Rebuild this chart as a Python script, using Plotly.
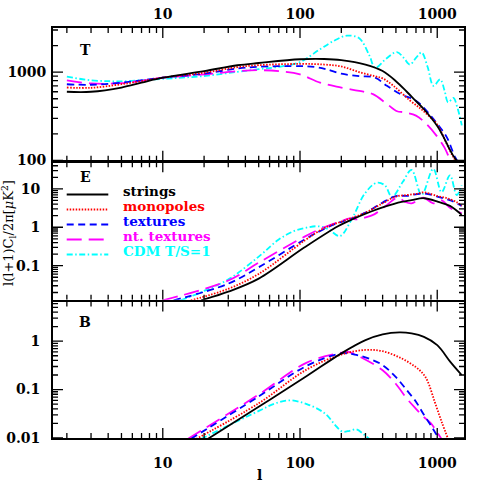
import math

import plotly.graph_objects as go
from plotly.subplots import make_subplots

# l(l+1)C_l/2pi [muK^2] against multipole l
T_STRINGS_L = [2, 3, 5, 7, 10, 20, 35, 50, 100, 150, 200, 300, 400, 500, 600, 700, 800, 1000, 1100, 1200, 1300, 1420]
T_STRINGS = [600, 600, 670, 760, 866, 1026, 1197, 1270, 1400, 1410, 1370, 1220, 1030, 790, 600, 470, 380, 245, 190, 145, 115, 95]
T_MONO_L = [2, 3, 5, 10, 20, 35, 50, 100, 150, 200, 270, 350, 400, 480, 630, 750, 850, 1000, 1170, 1310, 1420]
T_MONO = [670, 665, 730, 866, 985, 1140, 1200, 1240, 1220, 1160, 1000, 900, 850, 700, 480, 390, 330, 255, 155, 109, 90]
T_TEX_L = [2, 3, 5, 10, 20, 35, 50, 100, 130, 155, 200, 270, 350, 430, 540, 700, 830, 1000, 1170, 1350, 1460]
T_TEX = [730, 720, 760, 866, 962, 1100, 1150, 1170, 1140, 1080, 960, 900, 870, 700, 565, 475, 370, 260, 185, 109, 90]
T_NT_L = [2, 3, 5, 7, 10, 20, 35, 50, 70, 100, 140, 200, 270, 340, 430, 510, 570, 700, 830, 990, 1130, 1250, 1320]
T_NT = [808, 745, 750, 800, 866, 943, 1026, 1052, 1026, 943, 761, 670, 613, 563, 436, 361, 352, 322, 261, 190, 140, 100, 88]
T_CDM_L = [2, 3, 4, 5, 7, 10, 20, 35, 50, 70, 100, 140, 180, 220, 270, 320, 353, 420, 508, 570, 633, 700,
           769, 850, 940, 1050, 1130, 1200, 1310, 1400, 1510]
T_CDM = [888, 808, 790, 785, 810, 840, 905, 1010, 1080, 1150, 1300, 1820, 2300, 2590, 2420, 1550, 1120, 1400, 1690,
         1450, 1219, 1450, 1670, 1150, 698, 829, 620, 455, 510, 400, 250]

E_STRINGS_L = [19, 30, 50, 108, 189, 237, 330, 415, 549, 650, 800, 1017, 1238, 1507]
E_STRINGS = [0.0125, 0.021, 0.046, 0.30, 1.06, 1.57, 2.57, 3.45, 4.6, 5.1, 5.7, 4.6, 3.6, 2.1]
E_MONO_L = [16, 30, 50, 108, 150, 200, 237, 300, 400, 500, 600, 700, 800, 1000, 1200, 1400, 1507]
E_MONO = [0.0125, 0.025, 0.061, 0.45, 0.95, 1.4, 1.74, 2.4, 4.2, 6.3, 6.9, 7.4, 8.1, 6.5, 5.6, 4.4, 3.6]
E_TEX_L = [12, 30, 50, 108, 150, 189, 224, 300, 400, 500, 600, 800, 1000, 1250, 1507]
E_TEX = [0.0125, 0.034, 0.091, 0.48, 0.9, 1.3, 1.57, 2.4, 4.4, 6.5, 6.6, 7.6, 6.3, 5.0, 3.6]
E_NT_L = [10, 30, 50, 108, 150, 200, 230, 260, 300, 350, 415, 518, 581, 650, 790, 935, 1076, 1238, 1507]
E_NT = [0.0125, 0.041, 0.12, 0.57, 1.0, 1.45, 1.7, 1.6, 1.8, 2.2, 3.45, 5.9, 4.6, 4.2, 5.9, 4.2, 5.0, 3.2, 2.3]
E_CDM_L = [13.5, 20, 30.7, 50.8, 70, 90, 115, 135, 160, 195, 237, 297, 361, 415, 468, 560, 650, 769, 935,
           1076, 1238, 1386, 1507]
E_CDM = [0.0125, 0.022, 0.046, 0.18, 0.48, 0.79, 1.0, 1.06, 0.9, 0.59, 1.57, 7.6, 14.3, 12.4, 6.2, 15, 31, 7.0, 33,
         8.2, 22.5, 6.9, 12.4]

B_STRINGS_L = [21, 50, 112, 200, 300, 400, 530, 650, 800, 1000, 1250, 1507]
B_STRINGS = [0.0093, 0.044, 0.19, 0.56, 1.05, 1.38, 1.52, 1.45, 1.23, 0.83, 0.37, 0.20]
B_MONO_L = [17.5, 50, 112, 200, 300, 400, 550, 700, 790, 850, 960, 1080, 1200]
B_MONO = [0.0095, 0.052, 0.26, 0.53, 0.66, 0.62, 0.44, 0.29, 0.21, 0.15, 0.055, 0.021, 0.0095]
B_TEX_L = [16, 50, 112, 200, 250, 315, 400, 500, 600, 700, 800, 900, 1000, 1040]
B_TEX = [0.0095, 0.072, 0.31, 0.56, 0.53, 0.44, 0.32, 0.18, 0.097, 0.056, 0.030, 0.018, 0.011, 0.0093]
B_NT_L = [15.2, 50, 112, 200, 225, 280, 400, 500, 600, 700, 800, 900, 1000, 1080]
B_NT = [0.0095, 0.079, 0.36, 0.58, 0.60, 0.46, 0.25, 0.13, 0.065, 0.04, 0.027, 0.02, 0.013, 0.0093]
B_CDM_L = [19, 30, 51, 65, 84, 112, 152, 185, 204, 230, 257, 290, 323]
B_CDM = [0.0095, 0.018, 0.037, 0.051, 0.06, 0.05, 0.032, 0.017, 0.0135, 0.014, 0.015, 0.012, 0.0093]

MODEL_NAMES = ["strings", "monopoles", "textures", "nt. textures", "CDM T/S=1"]
MODEL_COLORS = ["#000000", "#ff0000", "#0000ff", "#ff00ff", "#00ffff"]
MODEL_DASHES = ["solid", "1.5px,1.5px", "7px,4.5px", "15px,7px", "6px,2.5px,1.5px,2.5px"]

PANEL_LABELS = ["T", "E", "B"]
X_TICKS = [10, 100, 1000]
X_TICK_TEXT = ["10", "100", "1000"]
T_TICKS = [100, 1000]
T_TICK_TEXT = ["100", "1000"]
E_TICKS = [0.1, 1, 10]
E_TICK_TEXT = ["0.1", "1", "10"]
B_TICKS = [0.01, 0.1, 1]
B_TICK_TEXT = ["0.01", "0.1", "1"]

W, H = 491, 491
LEFT, RIGHT, TOP, BOTTOM = 53, 464, 28, 438
FONT = "DejaVu Serif"
LINE_W = 1.7
X_RANGE = [0.2, 3.195]
Y_RANGES = [[1.998, 3.5], [-1.89, 1.69], [-2.002, 0.82]]
Y_TICKS = [T_TICKS, E_TICKS, B_TICKS]
Y_TICK_TEXT = [T_TICK_TEXT, E_TICK_TEXT, B_TICK_TEXT]


def px_x(x):
    return (x - LEFT) / (RIGHT - LEFT)


def px_y(y):
    return (BOTTOM - y) / (BOTTOM - TOP)


def minor_ticks(log_range):
    # 2..9 times each power of ten inside the axis range, as data values
    lo, hi = sorted(log_range)
    out = []
    for e in range(math.floor(lo), math.ceil(hi) + 1):
        for m in range(2, 10):
            if lo < math.log10(m) + e < hi:
                out.append(m * 10.0 ** e)
    return out


def tick_marks(x_range, y_range, height_px, x_major, y_major):
    # inward tick marks on all four sides of one panel, as one broken line;
    # lengths are in pixels, turned into log steps with the axis scales
    x_step = (x_range[1] - x_range[0]) / (RIGHT - LEFT)
    y_step = (y_range[1] - y_range[0]) / height_px
    xs, ys = [], []
    for vals, length in ((x_major, 10), (minor_ticks(x_range), 5)):
        for v in vals:
            xs += [v, v, None, v, v, None]
            ys += [10 ** y_range[0], 10 ** (y_range[0] + length * y_step), None,
                   10 ** y_range[1], 10 ** (y_range[1] - length * y_step), None]
    for vals, length in ((y_major, 10), (minor_ticks(y_range), 5)):
        for v in vals:
            xs += [10 ** x_range[0], 10 ** (x_range[0] + length * x_step), None,
                   10 ** x_range[1], 10 ** (x_range[1] - length * x_step), None]
            ys += [v, v, None, v, v, None]
    return xs, ys


panels = [
    [(T_STRINGS_L, T_STRINGS), (T_MONO_L, T_MONO), (T_TEX_L, T_TEX), (T_NT_L, T_NT), (T_CDM_L, T_CDM)],
    [(E_STRINGS_L, E_STRINGS), (E_MONO_L, E_MONO), (E_TEX_L, E_TEX), (E_NT_L, E_NT), (E_CDM_L, E_CDM)],
    [(B_STRINGS_L, B_STRINGS), (B_MONO_L, B_MONO), (B_TEX_L, B_TEX), (B_NT_L, B_NT), (B_CDM_L, B_CDM)],
]

# axis lines are drawn just outside each panel, so leave a line-width gap
# between panels to make the shared borders a single line
half = LINE_W / 2 / (BOTTOM - TOP)
split_te = px_y(161.5)
split_eb = px_y(300.7)
domains = [[split_te + half, 1], [split_eb + half, split_te - half], [0, split_eb - half]]

fig = make_subplots(rows=3, cols=1, shared_xaxes=True, vertical_spacing=0)

for row, series in enumerate(panels, start=1):
    # CDM first so the defect curves sit on top
    for i in [4, 3, 2, 1, 0]:
        ls, vals = series[i]
        fig.add_trace(
            go.Scatter(
                x=ls,
                y=vals,
                mode="lines",
                line={"color": MODEL_COLORS[i], "width": 1.8, "dash": MODEL_DASHES[i], "shape": "spline"},
                name=MODEL_NAMES[i],
                showlegend=False,
            ),
            row=row,
            col=1,
        )
    height_px = (domains[row - 1][1] - domains[row - 1][0]) * (BOTTOM - TOP)
    tx, ty = tick_marks(X_RANGE, Y_RANGES[row - 1], height_px, X_TICKS, Y_TICKS[row - 1])
    fig.add_trace(
        go.Scatter(x=tx, y=ty, mode="lines", line={"color": "black", "width": 1.3},
                   showlegend=False, hoverinfo="skip", connectgaps=False),
        row=row,
        col=1,
    )

axis_style = dict(
    type="log",
    showgrid=False,
    zeroline=False,
    showline=True,
    linecolor="black",
    linewidth=LINE_W,
    mirror=True,
    ticks="",
    tickmode="array",
)

for row in (1, 2, 3):
    fig.update_xaxes(range=X_RANGE, tickvals=X_TICKS, ticktext=X_TICK_TEXT, showticklabels=row != 2,
                     row=row, col=1, **axis_style)
fig.update_xaxes(side="top", ticklabelstandoff=2, row=1, col=1)
fig.update_xaxes(ticklabelstandoff=11, row=3, col=1)

for row in (1, 2, 3):
    fig.update_yaxes(domain=domains[row - 1], range=Y_RANGES[row - 1], tickvals=Y_TICKS[row - 1],
                     ticktext=Y_TICK_TEXT[row - 1], ticklabelstandoff=2 if row == 1 else 8,
                     row=row, col=1, **axis_style)

annotations = []
shapes = []
for label, ypix in zip(PANEL_LABELS, [50, 176.5, 322]):
    annotations.append(dict(text=label, x=px_x(85), y=px_y(ypix), xref="paper", yref="paper",
                            xanchor="center", yanchor="middle", showarrow=False))

# legend drawn by hand, inside the E panel
for k, name in enumerate(MODEL_NAMES):
    text_y = 191 + 15 * k
    line_y = text_y + 3.5
    shapes.append(dict(type="line", xref="paper", yref="paper",
                       x0=px_x(66.7), x1=px_x(108.3), y0=px_y(line_y), y1=px_y(line_y),
                       line=dict(color=MODEL_COLORS[k], width=1.8, dash=MODEL_DASHES[k])))
    annotations.append(dict(text=name, x=px_x(120.5), y=px_y(text_y), xref="paper", yref="paper",
                            xanchor="left", yanchor="middle", showarrow=False,
                            font=dict(color=MODEL_COLORS[k], size=13.5)))

annotations.append(dict(text="l(l+1)C<sub>l</sub>/2π[<i>μ</i>K<sup>2</sup>]", x=px_x(9), y=px_y(233),
                        xref="paper", yref="paper", xanchor="center", yanchor="middle",
                        textangle=-90, showarrow=False, font=dict(size=13, weight="normal")))
annotations.append(dict(text="l", x=px_x(259), y=px_y(475), xref="paper", yref="paper",
                        xanchor="center", yanchor="middle", showarrow=False))

fig.update_layout(
    width=W,
    height=H,
    margin=dict(l=LEFT, r=W - RIGHT, t=TOP, b=H - BOTTOM, autoexpand=False),
    paper_bgcolor="white",
    plot_bgcolor="white",
    font=dict(family=FONT, size=14, color="black", weight="bold"),
    showlegend=False,
    annotations=annotations,
    shapes=shapes,
)

# the page body has a default 8px margin; drop it so the figure sits at the corner
fig.write_html(
    "out.html",
    config={"displayModeBar": False},
    post_script="document.body.style.margin = '0px';",
)
